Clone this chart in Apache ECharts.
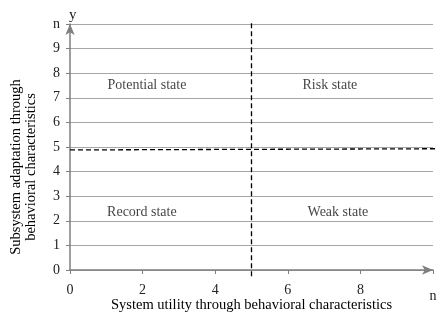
<!DOCTYPE html>
<html>
<head>
<meta charset="utf-8">
<script src="https://cdn.jsdelivr.net/npm/echarts@6/dist/echarts.min.js"></script>
<style>
  html, body { margin: 0; padding: 0; background: #fff; }
  #chart { width: 446px; height: 312px; }
</style>
</head>
<body>
<div id="chart"></div>
<script>
// dashed boundary lines
var vLine = [[5, -0.25], [5, 10.1]];
var hLine = [[0, 4.88], [10.1, 4.93]];

// state labels
var stateNames = ['Potential state', 'Risk state', 'Record state', 'Weak state'];
var stateX = [2.12, 7.16, 1.98, 7.38];
var stateY = [7.52, 7.52, 2.36, 2.36];

var xTicks = {0: '0', 2: '2', 4: '4', 6: '6', 8: '8', 10: 'n'};
var yTicks = {0: '0', 1: '1', 2: '2', 3: '3', 4: '4', 5: '5', 6: '6', 7: '7', 8: '8', 9: '9', 10: 'n'};

var font = '"Liberation Serif", "Times New Roman", serif';
var axisColor = '#7f7f7f';

var chart = echarts.init(document.getElementById('chart'));

var stateData = [];
for (var i = 0; i < stateNames.length; i++) {
  stateData.push({value: [stateX[i], stateY[i]], name: stateNames[i]});
}

chart.setOption({
  animation: false,
  textStyle: {fontFamily: font},
  grid: {left: 70, right: 13, top: 24, bottom: 42, outerBoundsMode: 'none', containLabel: false},
  xAxis: {
    type: 'value',
    min: 0, max: 10, interval: 2,
    name: 'System utility through behavioral characteristics',
    nameLocation: 'middle',
    nameGap: 28,
    nameMoveOverlap: false,
    nameTextStyle: {fontFamily: font, fontSize: 14.5, color: '#000'},
    axisLine: {show: true, lineStyle: {color: axisColor, width: 1.5}, symbol: ['none', 'arrow'], symbolSize: [7, 11], symbolOffset: [0, 0]},
    axisTick: {show: true, length: 4, lineStyle: {color: axisColor}},
    axisLabel: {
      margin: 13,
      fontFamily: font, fontSize: 14, color: '#222',
      formatter: function (v) {
        return v === 10 ? '{n|n}' : xTicks[v];
      },
      rich: {n: {fontFamily: font, fontSize: 14, color: '#222', padding: [6, 0, 0, 0]}}
    },
    splitLine: {show: false}
  },
  yAxis: {
    type: 'value',
    min: 0, max: 10, interval: 1,
    name: 'Subsystem adaptation through\nbehavioral characteristics',
    nameLocation: 'middle',
    nameGap: 31,
    nameMoveOverlap: false,
    nameTextStyle: {fontFamily: font, fontSize: 14.5, color: '#000', lineHeight: 15, padding: [0, 40, 0, 0]},
    axisLine: {show: true, lineStyle: {color: axisColor, width: 1.5}, symbol: ['none', 'arrow'], symbolSize: [7, 11]},
    axisTick: {show: true, length: 4, lineStyle: {color: axisColor}},
    axisLabel: {
      margin: 10,
      fontFamily: font, fontSize: 14, color: '#222',
      formatter: function (v) { return yTicks[v]; }
    },
    splitLine: {show: true, lineStyle: {color: '#a6a6a6', width: 1}}
  },
  graphic: [{
    type: 'text',
    left: 69, top: 8,
    style: {text: 'y', font: '15px ' + font, fill: '#222'}
  }],
  series: [
    {
      type: 'line',
      data: vLine,
      clip: false,
      symbol: 'none',
      lineStyle: {color: '#000', width: 1.3, type: [5, 3]}
    },
    {
      type: 'line',
      data: hLine,
      clip: false,
      symbol: 'none',
      lineStyle: {color: '#000', width: 1.3, type: [5, 3]}
    },
    {
      type: 'scatter',
      data: stateData,
      symbolSize: 0,
      label: {
        show: true,
        position: 'inside',
        formatter: '{b}',
        fontFamily: font,
        fontSize: 14,
        color: '#111'
      }
    }
  ]
});
</script>
</body>
</html>
